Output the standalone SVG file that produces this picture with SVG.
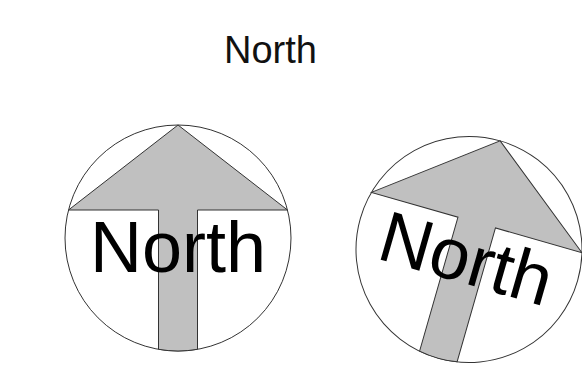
<svg xmlns="http://www.w3.org/2000/svg" width="582" height="382" viewBox="0 0 582 382">
<style>
.ring{fill:#ffffff;stroke:#333333;stroke-width:1}
.arrow{fill:#c0c0c0;stroke:#333333;stroke-width:1;stroke-linejoin:miter}
.big{font-family:"Liberation Sans",Arial,sans-serif;font-size:72px;fill:#000000;text-anchor:middle}
.title{font-family:"Liberation Sans",Arial,sans-serif;font-size:38px;fill:#111111;text-anchor:middle}
</style>
<defs>
<g id="compass">
<circle class="ring" cx="0" cy="0" r="113"/>
<path class="arrow" d="M0,-113 L109.5,-28 L19.5,-28 L19.5,111.3 A113,113 0 0 1 -19.5,111.3 L-19.5,-28 L-109.5,-28 Z"/>
<text class="big" x="0" y="34">North</text>
</g>
</defs>
<g id="title"><text class="title" x="270.5" y="63">North</text></g>
<g id="north-upright" transform="translate(178,238)"><use href="#compass"/></g>
<g id="north-rotated" transform="translate(469,249.5) rotate(16)"><use href="#compass"/></g>
<g id="connectors"/>
</svg>
